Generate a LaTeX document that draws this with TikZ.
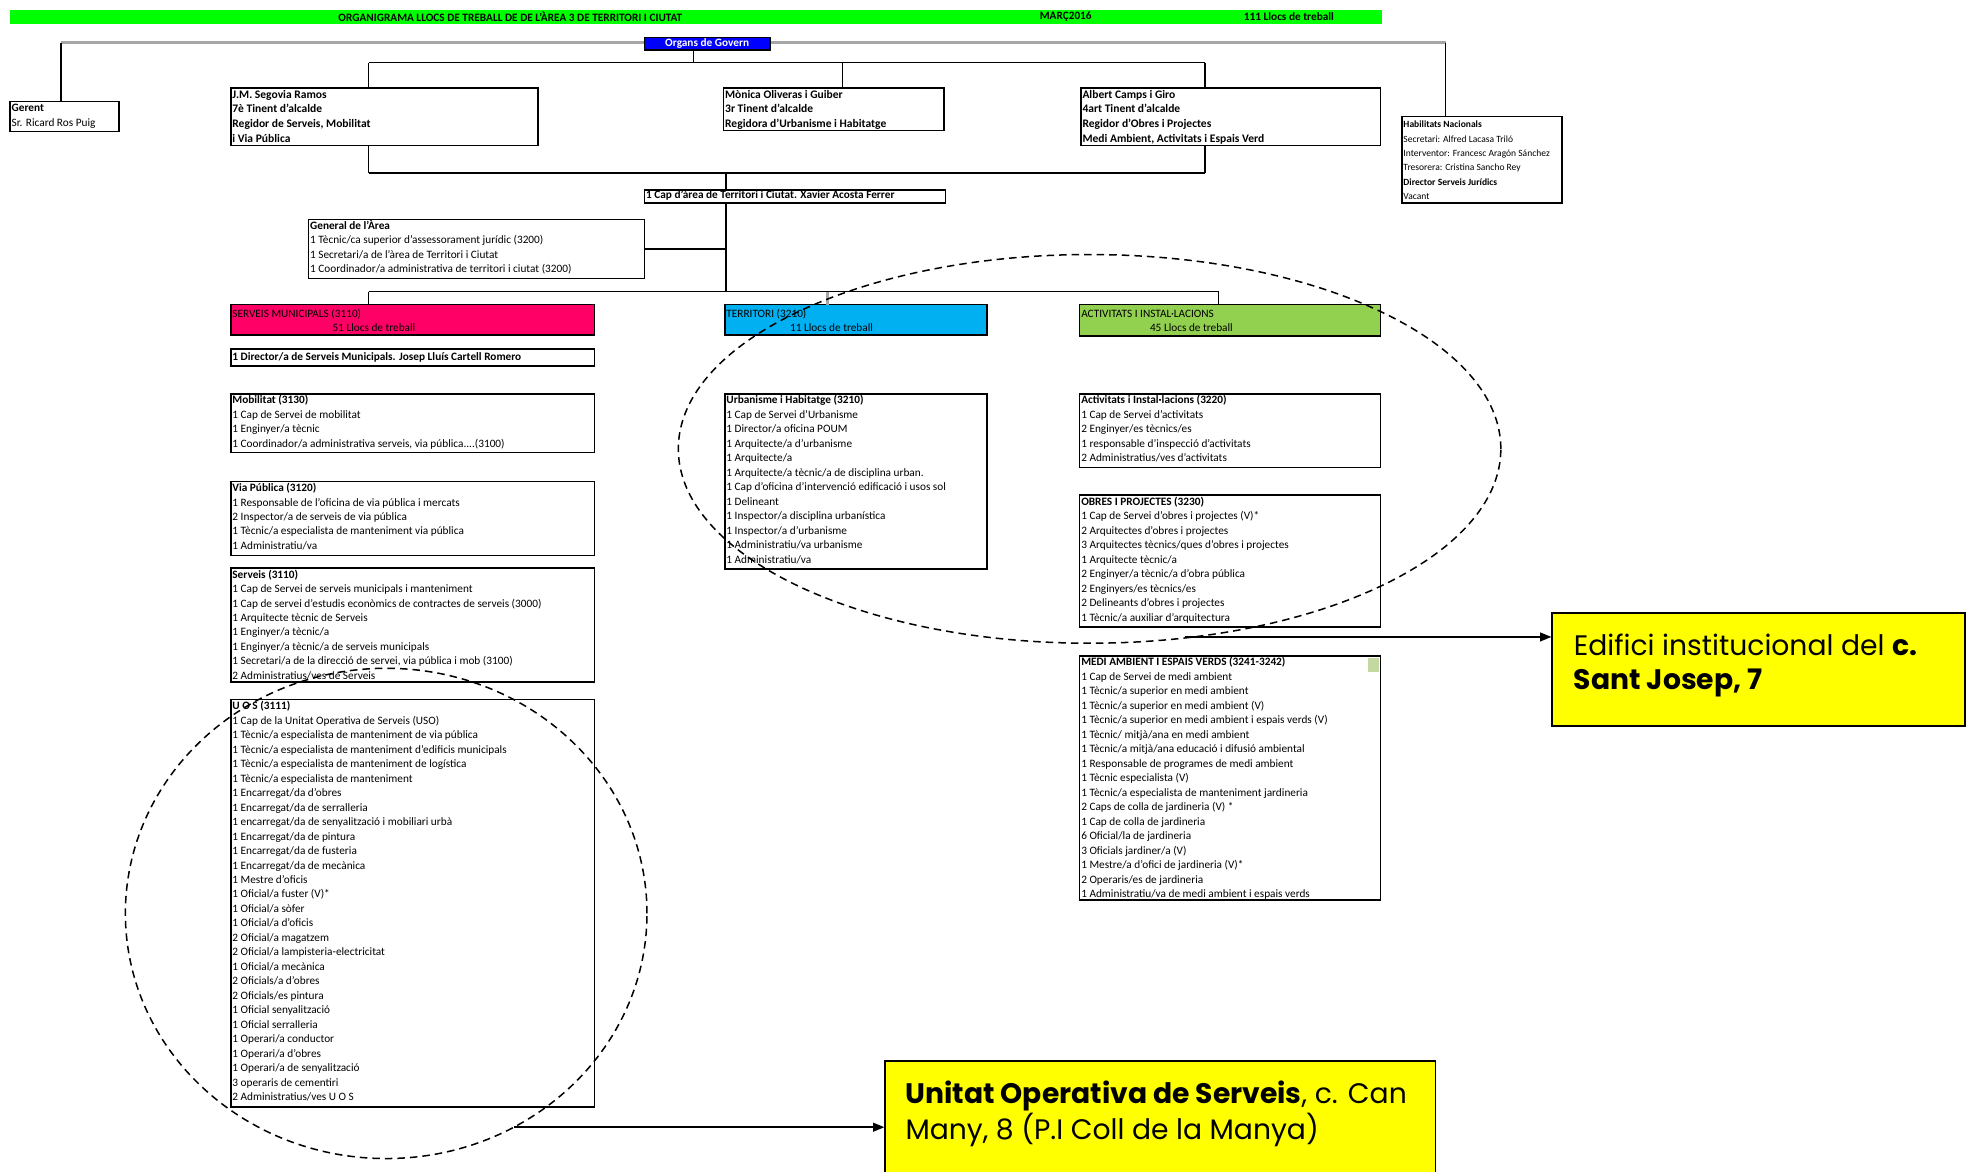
\documentclass[tikz,border=0pt]{standalone}
\usepackage{fontspec}
\setmainfont{Carlito}
\newfontfamily\yfont{Poppins}
\usetikzlibrary{fit,arrows.meta}
\definecolor{smred}{HTML}{FF0066}
\definecolor{terblue}{HTML}{00B0F0}
\definecolor{actgreen}{HTML}{92D050}
\definecolor{bargreen}{HTML}{00FF00}
\definecolor{lightgr}{HTML}{C4D9A0}
\definecolor{yell}{HTML}{FFFF00}
\newcommand\BX[6][]{\node[fit={(#3,#4) (#5,#6)}, boxst, #1] (#2) {};}
\newcommand\TX[3][]{\node[txt,#1] (#2-t) at (#2.north west) {\strut #3};}
\begin{document}
\begin{tikzpicture}[x=1pt,y=-1pt,
  boxst/.style={draw=black, line width=1.3pt, inner sep=0pt},
  txt/.style={anchor=north west, align=left, inner xsep=1.8pt, inner ysep=0.4pt,
    font=\fontsize{9}{11.55}\selectfont},
  btxt/.style={txt, font=\fontsize{9.2}{11.8}\selectfont\bfseries},
  bartxt/.style={font=\fontsize{9}{9}\selectfont\bfseries, inner sep=0pt},
  conn/.style={draw=black, line width=1.2pt},
  gconn/.style={draw=gray!70, line width=2.4pt},
  ell/.style={draw=black, line width=1.2pt, dash pattern=on 6pt off 4pt},
  arr/.style={draw=black, line width=1.2pt, -{Triangle[length=9pt,width=7pt]}},
  ybox/.style={fill=yell, draw=black, line width=1.3pt, inner sep=0pt},
  ytxt/.style={anchor=base west, inner sep=0pt, font=\yfont\fontsize{22.5}{27}\selectfont}
]
\useasboundingbox (0,0) rectangle (1568,934);
\fill[white] (0,0) rectangle (1568,934);

% title bar
\node[fit={(8,8) (1102,19)}, fill=bargreen, inner sep=0pt] (bar) {};
\node[bartxt] (bartitle) at (407,13.5) {ORGANIGRAMA LLOCS DE TREBALL DE DE L'ÀREA 3 DE TERRITORI I CIUTAT};
\node[bartxt] (bardate) at (850,13.5) {MARÇ2016};
\node[bartxt] (barcount) at (1028,13.5) {111 Llocs de treball};

% top connectors
\coordinate (tl) at (48.5,34);
\coordinate (tr) at (1153,34);
\draw[gconn] (tl) -- (tr);

% Organs de govern
\BX[fill=blue, line width=1.1pt]{govern}{514}{30}{614}{40}
\node[font=\fontsize{9}{9}\selectfont\bfseries, text=white, inner sep=0pt] (govern-t) at (govern.center) {Organs de Govern};

% top boxes
\BX{gerent}{8}{81}{95}{105}
\node[txt] (gerent-t) at (gerent.north west) {\strut\textbf{Gerent}\\Sr. Ricard Ros Puig};
\BX{segovia}{184}{70}{429}{116}
\TX[btxt]{segovia}{J.M. Segovia Ramos\\7è Tinent d'alcalde\\Regidor de Serveis, Mobilitat\\i Via Pública}
\BX{monica}{577}{70}{753}{104}
\TX[btxt]{monica}{Mònica Oliveras i Guiber\\3r Tinent d'alcalde\\Regidora d'Urbanisme i Habitatge}
\BX{albert}{862}{70}{1101}{116}
\TX[btxt]{albert}{Albert Camps i Giro\\4art Tinent d'alcalde\\Regidor d'Obres i Projectes\\Medi Ambient, Activitats i Espais Verd}
\BX{hab}{1118}{93}{1246}{162}
\node[txt, font=\fontsize{7.6}{11.4}\selectfont, inner ysep=1.5pt] (hab-t) at (hab.north west) {\strut\textbf{Habilitats Nacionals}\\Secretari: Alfred Lacasa Triló\\Interventor: Francesc Aragón Sánchez\\Tresorera: Cristina Sancho Rey\\\textbf{Director Serveis Jurídics}\\Vacant};

\draw[conn] (tl) -- (tl |- gerent.north);
\draw[conn] (tr) -- (tr |- hab.north);

% second level connectors
\coordinate (gv) at (553,50);
\coordinate (ul) at (294,50);
\coordinate (ur) at (961,50);
\draw[conn] (govern.south -| gv) -- (gv);
\draw[conn] (ul) -- (ur);
\draw[conn] (ul) -- (ul |- segovia.north);
\draw[conn] (672,50) -- (672,70);
\draw[conn] (ur) -- (ur |- albert.north);
\coordinate (ll) at (294,138);
\coordinate (lr) at (961,138);
\coordinate (lc) at (579,138);
\draw[conn] (ll) -- (lr);
\draw[conn] (ll |- segovia.south) -- (ll);
\draw[conn] (lr |- albert.south) -- (lr);

% cap d'area
\BX{cap}{514}{151.5}{754}{162}
\node[txt, font=\fontsize{9}{11.55}\selectfont\bfseries, inner ysep=-0.6pt] (cap-t) at (cap.north west) {\strut 1 Cap d'àrea de Territori i Ciutat. Xavier Acosta Ferrer};
\draw[conn] (lc) -- (lc |- cap.north);

\BX{general}{246}{175}{514}{222}
\TX{general}{\textbf{General de l'Àrea}\\1 Tècnic/ca superior d'assessorament jurídic (3200)\\1 Secretari/a de l'àrea de Territori i Ciutat\\1 Coordinador/a administrativa de territori i ciutat (3200)}

\coordinate (bl) at (294,232.6);
\coordinate (br) at (972,232.6);
\coordinate (bc) at (579,232.6);
\draw[conn] (cap.south -| bc) -- (bc);
\draw[conn] (general.east) -- (general.east -| bc);
\draw[conn] (bl) -- (br);

% headers
\BX[fill=smred]{smhead}{184}{243}{474}{267}
\node[txt, inner ysep=2.4pt] (smhead-t) at (smhead.north west) {\strut SERVEIS MUNICIPALS (3110)};
\node[anchor=base west, inner sep=0pt, font=\fontsize{9}{11}\selectfont] (smhead-n) at (265,264.5) {51 Llocs de treball};
\BX[fill=terblue]{terhead}{578}{243}{787}{267}
\node[txt, inner ysep=2.4pt] (terhead-t) at (terhead.north west) {\strut TERRITORI (3210)};
\node[anchor=base west, inner sep=0pt, font=\fontsize{9}{11}\selectfont] (terhead-n) at (630,264.5) {11 Llocs de treball};
\BX[fill=actgreen]{acthead}{861}{243}{1101}{268}
\node[txt, inner ysep=2.4pt] (acthead-t) at (acthead.north west) {\strut ACTIVITATS I INSTAL·LACIONS};
\node[anchor=base west, inner sep=0pt, font=\fontsize{9}{11}\selectfont] (acthead-n) at (917,264.5) {45 Llocs de treball};

\draw[conn] (bl) -- (bl |- smhead.north);
\draw[gconn] (660,232.6) -- (660,243);
\draw[conn] (br) -- (br |- acthead.north);

% Serveis municipals column
\BX{director}{184}{278.5}{474}{292}
\node[txt, font=\fontsize{9}{11.55}\selectfont\bfseries, inner ysep=1pt] (director-t) at (director.north west) {\strut 1 Director/a de Serveis Municipals. Josep Lluís Cartell Romero};

\BX{mob}{184}{314}{474}{361}
\TX{mob}{\textbf{Mobilitat (3130)}\\1 Cap de Servei de mobilitat\\1 Enginyer/a tècnic\\1 Coordinador/a administrativa serveis, via pública....(3100)}

\BX{via}{184}{384}{474}{443}
\TX{via}{\textbf{Via Pública (3120)}\\1 Responsable de l'oficina de via pública i mercats\\2 Inspector/a de serveis de via pública\\1 Tècnic/a especialista de manteniment via pública\\1 Administratiu/va}

\BX{serv}{184}{453}{474}{544}
\TX{serv}{\textbf{Serveis (3110)}\\1 Cap de Servei de serveis municipals i manteniment\\1 Cap de servei d'estudis econòmics de contractes de serveis (3000)\\1 Arquitecte tècnic de Serveis\\1 Enginyer/a tècnic/a\\1 Enginyer/a tècnic/a de serveis municipals\\1 Secretari/a de la direcció de servei, via pública i mob (3100)\\2 Administratius/ves de Serveis}

\BX{uos}{184}{558}{474}{883}
\TX{uos}{\textbf{U O S (3111)}\\1 Cap de la Unitat Operativa de Serveis (USO)\\1 Tècnic/a especialista de manteniment de via pública\\1 Tècnic/a especialista de manteniment d'edificis municipals\\1 Tècnic/a especialista de manteniment de logística\\1 Tècnic/a especialista de manteniment\\1 Encarregat/da d'obres\\1 Encarregat/da de serralleria\\1 encarregat/da de senyalització i mobiliari urbà\\1 Encarregat/da de pintura\\1 Encarregat/da de fusteria\\1 Encarregat/da de mecànica\\1 Mestre d'oficis\\1 Oficial/a fuster (V)*\\1 Oficial/a sòfer\\1 Oficial/a d'oficis\\2 Oficial/a magatzem\\2 Oficial/a lampisteria-electricitat\\1 Oficial/a mecànica\\2 Oficials/a d'obres\\2 Oficials/es pintura\\1 Oficial senyalització\\1 Oficial serralleria\\1 Operari/a conductor\\1 Operari/a d'obres\\1 Operari/a de senyalització\\3 operaris de cementiri\\2 Administratius/ves U O S}

% Territori column
\BX{urb}{578}{314}{787}{454}
\TX{urb}{\textbf{Urbanisme i Habitatge (3210)}\\1 Cap de Servei d'Urbanisme\\1 Director/a oficina POUM\\1 Arquitecte/a d'urbanisme\\1 Arquitecte/a\\1 Arquitecte/a tècnic/a de disciplina urban.\\1 Cap d'oficina d'intervenció edificació i usos sol\\1 Delineant\\1 Inspector/a disciplina urbanística\\1 Inspector/a d'urbanisme\\1 Administratiu/va urbanisme\\1 Administratiu/va}

% Activitats column
\BX{act}{861}{314}{1101}{373}
\TX{act}{\textbf{Activitats i Instal·lacions (3220)}\\1 Cap de Servei d'activitats\\2 Enginyer/es tècnics/es\\1 responsable d'inspecció d'activitats\\2 Administratius/ves d'activitats}

\BX{obres}{861}{395}{1101}{500}
\TX{obres}{\textbf{OBRES I PROJECTES (3230)}\\1 Cap de Servei d'obres i projectes (V)*\\2 Arquitectes d'obres i projectes\\3 Arquitectes tècnics/ques d'obres i projectes\\1 Arquitecte tècnic/a\\2 Enginyer/a tècnic/a d'obra pública\\2 Enginyers/es tècnics/es\\2 Delineants d'obres i projectes\\1 Tècnic/a auxiliar d'arquitectura}

\BX{medi}{861}{523}{1101}{718}
\fill[lightgr] (1091,525) rectangle (1100,536);
\TX{medi}{\textbf{MEDI AMBIENT I ESPAIS VERDS (3241-3242)}\\1 Cap de Servei de medi ambient\\1 Tècnic/a superior en medi ambient\\1 Tècnic/a superior en medi ambient (V)\\1 Tècnic/a superior en medi ambient i espais verds (V)\\1 Tècnic/ mitjà/ana en medi ambient\\1 Tècnic/a mitjà/ana educació i difusió ambiental\\1 Responsable de programes de medi ambient\\1 Tècnic especialista (V)\\1 Tècnic/a especialista de manteniment jardineria\\2 Caps de colla de jardineria (V) *\\1 Cap de colla de jardineria\\6 Oficial/la de jardineria\\3 Oficials jardiner/a (V)\\1 Mestre/a d'ofici de jardineria (V)*\\2 Operaris/es de jardineria\\1 Administratiu/va de medi ambient i espais verds}

% dashed ellipses
\draw[ell] (308,728.5) ellipse [x radius=208pt, y radius=195.5pt];
\draw[ell] (869,358) ellipse [x radius=328pt, y radius=155pt];

% yellow callouts
\node[fit={(1238,489) (1567,579)}, ybox] (call1) {};
\node[ytxt] (call1-a) at (1255,523) {Edifici institucional del \textbf{c.}};
\node[ytxt] (call1-b) at (1255,550) {\textbf{Sant Josep, 7}};
\node[fit={(706,846) (1145,945)}, ybox] (call2) {};
\node[ytxt] (call2-a) at (722,880) {\textbf{Unitat Operativa de Serveis}, c. Can};
\node[ytxt] (call2-b) at (722,909) {Many, 8 (P.I Coll de la Manya)};

\coordinate (a1) at (945,508);
\coordinate (a2) at (410,899);
\draw[arr] (a1) -- (a1 -| call1.west);
\draw[arr] (a2) -- (a2 -| call2.west);
\end{tikzpicture}
\end{document}
